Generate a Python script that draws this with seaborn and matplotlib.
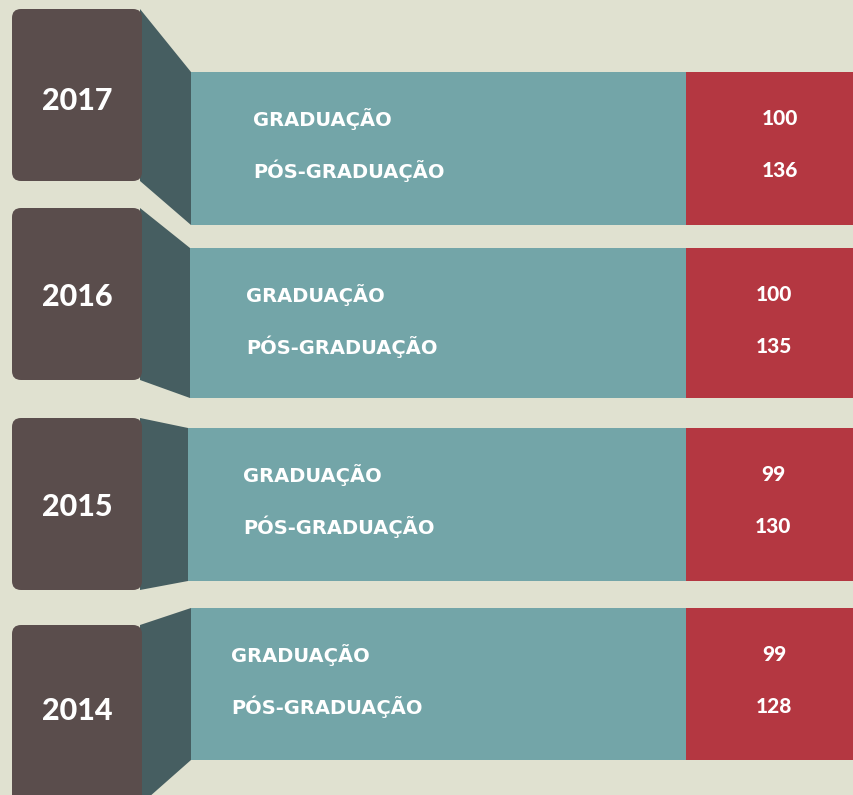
import seaborn as sns
import matplotlib.pyplot as plt
from matplotlib.patches import FancyBboxPatch, Polygon, Rectangle

years = ["2017", "2016", "2015", "2014"]
categorias = ["GRADUAÇÃO", "PÓS-GRADUAÇÃO"]
graduacao = [100, 100, 99, 99]
pos_graduacao = [136, 135, 130, 128]

sns.set_theme(style="white")
plt.rcParams['font.family'] = ['Lato', 'DejaVu Sans']

bg = "#E0E1D0"
brown = "#5A4D4C"
dark_teal = "#465E61"
teal = "#73A5A8"
red = "#B43741"

# pixel layout of each block: box top/bottom, panel top/bottom, panel left, label x, number x
layout = [
    (9, 181, 72, 225, 191, 253, 780),
    (208, 380, 248, 398, 190, 246, 774),
    (418, 590, 428, 581, 188, 243, 773),
    (625, 805, 608, 760, 191, 231, 774),
]

fig = plt.figure(figsize=(8.54, 7.95), dpi=100, facecolor=bg)
ax = fig.add_axes([0, 0, 1, 1])
ax.set_facecolor(bg)
ax.set_xlim(0, 854)
ax.set_ylim(795, 0)
ax.axis("off")

for i, year in enumerate(years):
    btop, bbot, ptop, pbot, px, lx, nx = layout[i]
    ax.add_patch(Polygon([(140, btop), (px, ptop), (px, pbot), (140, bbot)],
                         closed=True, color=dark_teal, lw=0))
    ax.add_patch(FancyBboxPatch((12, btop), 130, bbot - btop,
                                boxstyle="round,pad=0,rounding_size=9",
                                color=brown, lw=0))
    ax.add_patch(Rectangle((px, ptop), 686 - px, pbot - ptop, color=teal, lw=0))
    ax.add_patch(Rectangle((686, ptop), 854 - 686, pbot - ptop, color=red, lw=0))

    ycen = [98, 295, 504, 708][i]
    ax.text(77, ycen, year, color="white", fontsize=22, fontweight=900,
            ha="center", va="center_baseline")

    vals = [graduacao[i], pos_graduacao[i]]
    for j, cat in enumerate(categorias):
        y = ptop + 45 + j * 52
        ax.text(lx, y, cat, color="white", fontsize=14, fontweight="bold",
                family="DejaVu Sans", ha="left", va="center_baseline")
        ax.text(nx, y, str(vals[j]), color="white", fontsize=15,
                fontweight=900, ha="center", va="center_baseline")

fig.savefig("out.png", dpi=100, facecolor=bg)
